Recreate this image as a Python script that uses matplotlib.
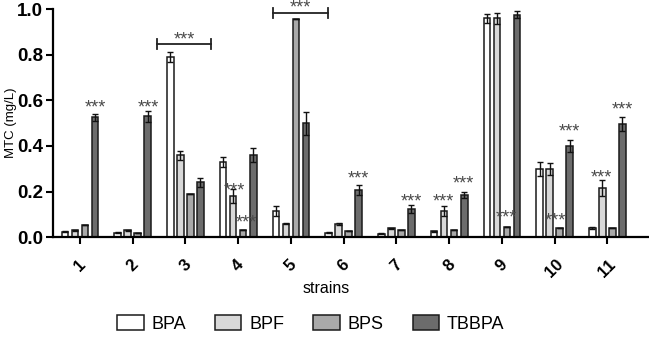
import numpy as np
import matplotlib
matplotlib.use("Agg")
import matplotlib.pyplot as plt

plt.rcParams["font.family"] = ["Liberation Sans", "DejaVu Sans"]

# 数据
strains = ["1", "2", "3", "4", "5", "6", "7", "8", "9", "10", "11"]
series = ["BPA", "BPF", "BPS", "TBBPA"]
bpa = [0.025, 0.02, 0.79, 0.33, 0.115, 0.02, 0.015, 0.026, 0.96, 0.298, 0.04]
bpf = [0.03, 0.03, 0.36, 0.18, 0.06, 0.058, 0.04, 0.115, 0.96, 0.30, 0.215]
bps = [0.052, 0.018, 0.19, 0.03, 0.955, 0.029, 0.03, 0.03, 0.046, 0.04, 0.04]
tbbpa = [0.525, 0.53, 0.24, 0.36, 0.50, 0.207, 0.123, 0.185, 0.975, 0.40, 0.497]
bpa_err = [0.004, 0.003, 0.02, 0.02, 0.02, 0.002, 0.002, 0.003, 0.02, 0.03, 0.005]
bpf_err = [0.003, 0.003, 0.02, 0.03, 0.003, 0.003, 0.002, 0.02, 0.025, 0.025, 0.035]
bps_err = [0.0, 0.0, 0.0, 0.0, 0.0, 0.0, 0.0, 0.0, 0.0, 0.0, 0.0]
tbbpa_err = [0.015, 0.025, 0.02, 0.03, 0.05, 0.02, 0.018, 0.015, 0.015, 0.025, 0.03]

# 显著性标记 (x, y)
star_x = [1.29, 2.29, 3.93, 4.16, 6.27, 7.28, 7.89, 8.27, 9.08, 10.02, 10.28, 10.88, 11.28]
star_y = [0.575, 0.575, 0.215, 0.073, 0.266, 0.167, 0.167, 0.244, 0.093, 0.080, 0.47, 0.27, 0.566]
# 括号 (x0, x1, y)
brackets = [(2.46, 3.49, 0.846), (4.66, 5.70, 0.985)]

colors = ["#ffffff", "#d8d8d8", "#a9a9a9", "#6c6c6c"]

fig = plt.figure(figsize=(6.49, 3.37), dpi=100)
ax = fig.add_axes([0.0817, 0.296, 0.916, 0.677])

x = np.arange(1, len(strains) + 1)
width = 0.125
step = 0.19
vals = [bpa, bpf, bps, tbbpa]
errs = [bpa_err, bpf_err, bps_err, tbbpa_err]
for i, (name, v, e, c) in enumerate(zip(series, vals, errs, colors)):
    pos = x + (i - 1.5) * step
    ax.bar(pos, v, width=width, color=c, edgecolor="#1a1a1a", linewidth=1.1,
           label=name, zorder=2)
    ax.errorbar(pos, v, yerr=e, fmt="none", ecolor="#111111", elinewidth=1.0,
                capsize=2, capthick=1.0, zorder=3)

# 星号
for sx, sy in zip(star_x, star_y):
    ax.text(sx, sy - 0.03, "***", ha="center", va="baseline", fontsize=13,
            color="#4a4a4a", zorder=4)

for x0, x1, by in brackets:
    ax.plot([x0, x1], [by, by], color="#222222", lw=1.3, clip_on=False)
    ax.plot([x0, x0], [by - 0.022, by + 0.022], color="#222222", lw=1.3, clip_on=False)
    ax.plot([x1, x1], [by - 0.022, by + 0.022], color="#222222", lw=1.3, clip_on=False)
    ax.text((x0 + x1) / 2, by + 0.0, "***", ha="center", va="baseline",
            fontsize=13, color="#4a4a4a", clip_on=False)

ax.set_xlim(0.49, 11.76)
ax.set_ylim(0, 1.0)
ax.set_yticks([0.0, 0.2, 0.4, 0.6, 0.8, 1.0])
ax.set_yticklabels(["0.0", "0.2", "0.4", "0.6", "0.8", "1.0"], fontweight="bold",
                   fontsize=13.5)
ax.set_xticks(x)
ax.set_xticklabels(strains, rotation=45, fontweight="bold", fontsize=12,
                   ha="center")
ax.spines["top"].set_visible(False)
ax.spines["right"].set_visible(False)
ax.spines["left"].set_linewidth(1.6)
ax.spines["bottom"].set_linewidth(1.6)
ax.tick_params(axis="y", direction="out", length=5, width=1.5, pad=2)
ax.tick_params(axis="x", direction="out", length=5, width=1.5, pad=9)
ax.set_ylabel("MTC (mg/L)", fontsize=9.5)
ax.yaxis.set_label_coords(-0.06, 0.5)
ax.set_xlabel("strains", fontsize=11.5)
ax.xaxis.set_label_coords(0.46, -0.19)

fig.legend(*ax.get_legend_handles_labels(), loc="center",
           bbox_to_anchor=(0.479, 0.038), ncol=4, frameon=False, fontsize=13,
           handlelength=1.45, handleheight=0.85, columnspacing=1.6,
           handletextpad=0.45)

fig.savefig("out.png", dpi=100)
